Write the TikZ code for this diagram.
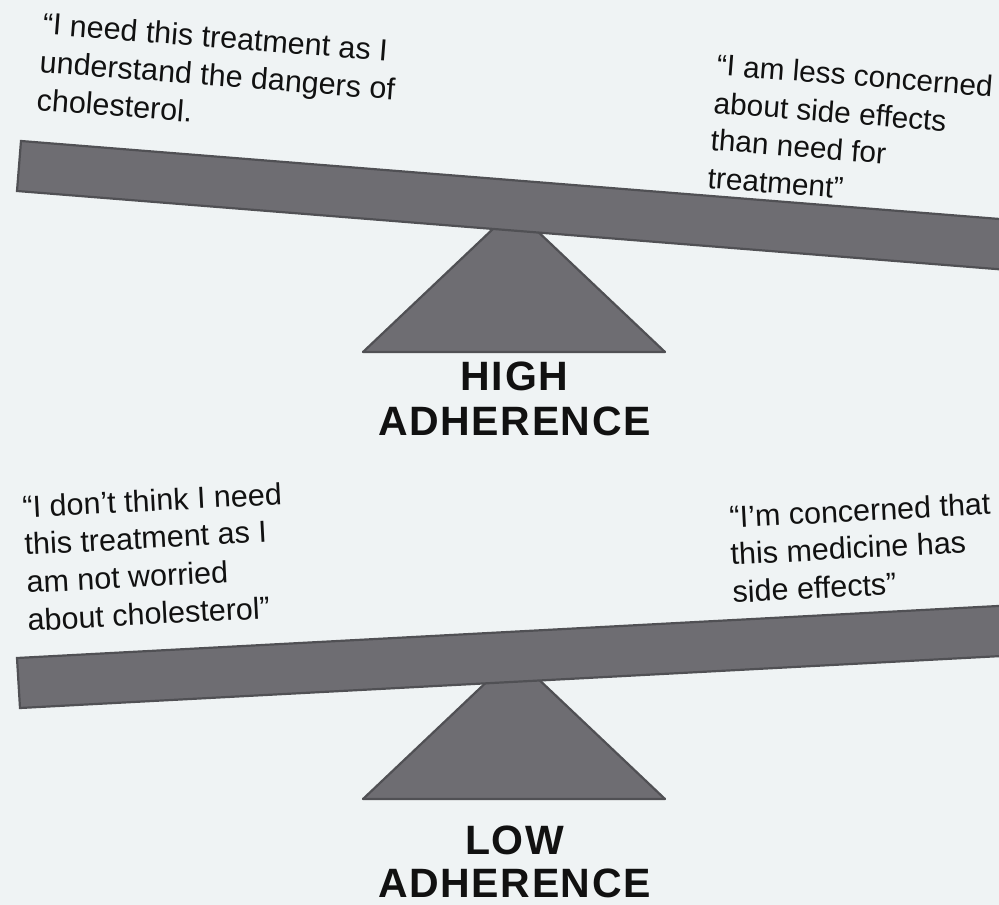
\documentclass[tikz,border=0pt]{standalone}
\usepackage{fontspec}
\setmainfont{Liberation Sans}
\newfontfamily\labfont[LetterSpace=4]{Liberation Sans}
\newcommand\qfont{\fontsize{30.5}{38}\selectfont}
\newcommand\qfontsm{\fontsize{29.8}{38}\selectfont}
\newcommand\lfont{\labfont\bfseries\fontsize{41}{45}\selectfont}
\definecolor{bg}{HTML}{EFF3F4}
\definecolor{beamfill}{HTML}{6E6D72}
\definecolor{beamedge}{HTML}{505054}
\definecolor{ink}{HTML}{111111}
\tikzset{
  beam/.style={fill=beamfill, draw=beamedge, line width=2.2pt, line join=miter},
  pivot/.style={fill=beamfill, draw=beamedge, line width=2.2pt, line join=round},
  quote/.style={anchor=base west, inner sep=0pt, font=\qfont, text=ink},
  quotesm/.style={quote, font=\qfontsm},
  adlabel/.style={anchor=base, inner sep=0pt, font=\lfont, text=ink}
}
\begin{document}
\begin{tikzpicture}[x=1pt,y=-1pt]
\useasboundingbox (0,0) rectangle (999,905);
\fill[bg] (0,0) rectangle (999,905);
\clip (0,0) rectangle (999,905);

% ---------- upper see-saw (high adherence) ----------
\coordinate (ub1) at (363,352);
\coordinate (ub2) at (665,352);
\coordinate (uap) at (514,209);
\draw[pivot] (ub1) -- (ub2) -- (uap) -- cycle;
\coordinate (utl) at (21,141);
\coordinate (utr) at (1100,227);
\coordinate (ubr) at (1100,277.3);
\coordinate (ubl) at (17,191);
\draw[beam] (utl) -- (utr) -- (ubr) -- (ubl) -- cycle;

\node[quote, rotate=-4.5] (q1a) at (42,34)  {“I need this treatment as I};
\node[quote, rotate=-4.5] (q1b) at (39,72)  {understand the dangers of};
\node[quote, rotate=-4.5] (q1c) at (36,110) {cholesterol.};

\node[quotesm, rotate=-4.5] (q2a) at (716,75)  {“I am less concerned};
\node[quotesm, rotate=-4.5] (q2b) at (713,113) {about side effects};
\node[quotesm, rotate=-4.5] (q2c) at (710,150) {than need for};
\node[quotesm, rotate=-4.5] (q2d) at (707,188) {treatment”};

\node[adlabel] (hi1) at (514.5,390) {HIGH};
\node[adlabel] (hi2) at (514.5,435) {ADHERENCE};

% ---------- lower see-saw (low adherence) ----------
\coordinate (lb1) at (363,799);
\coordinate (lb2) at (665,799);
\coordinate (lap) at (514,656);
\draw[pivot] (lb1) -- (lb2) -- (lap) -- cycle;
\coordinate (ltl) at (17,658);
\coordinate (ltr) at (1100,600.6);
\coordinate (lbr) at (1100,650.8);
\coordinate (lbl) at (20,708);
\draw[beam] (ltl) -- (ltr) -- (lbr) -- (lbl) -- cycle;

\node[quote, rotate=3] (q3a) at (23,518) {“I don’t think I need};
\node[quote, rotate=3] (q3b) at (25,555) {this treatment as I};
\node[quote, rotate=3] (q3c) at (27,593) {am not worried};
\node[quote, rotate=3] (q3d) at (28,631) {about cholesterol”};

\node[quote, rotate=3] (q4a) at (730,528) {“I’m concerned that};
\node[quote, rotate=3] (q4b) at (731,565) {this medicine has};
\node[quote, rotate=3] (q4c) at (733,603) {side effects”};

\node[adlabel] (lo1) at (514.5,854) {LOW};
\node[adlabel] (lo2) at (514.5,897) {ADHERENCE};
\end{tikzpicture}
\end{document}
